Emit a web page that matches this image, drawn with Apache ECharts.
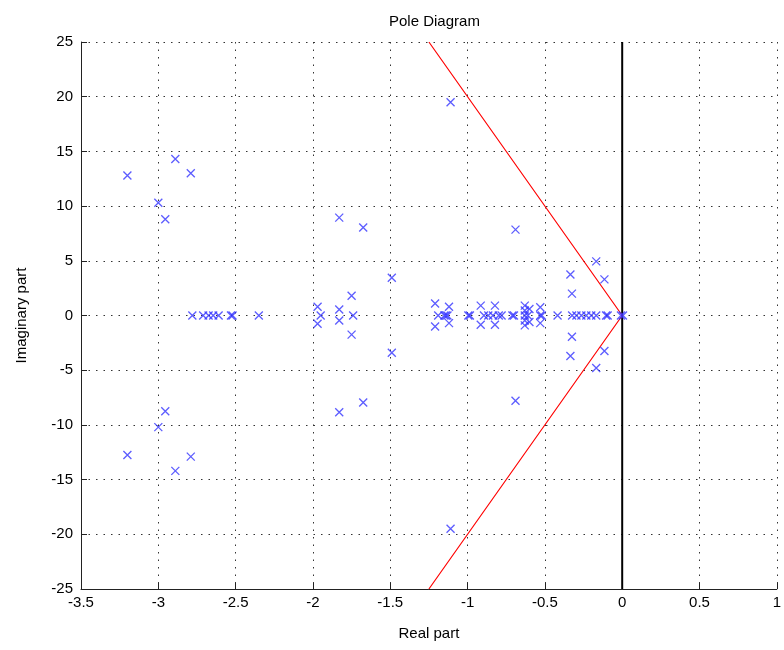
<!DOCTYPE html>
<html>
<head>
<meta charset="utf-8">
<script src="https://cdn.jsdelivr.net/npm/echarts@6/dist/echarts.min.js"></script>
<style>
  html, body { margin: 0; padding: 0; background: #fff; overflow: hidden; }
  #chart { width: 784px; height: 650px; }
</style>
</head>
<body>
<div id="chart"></div>
<script>
// Complex poles (real part, imaginary part)
const complexRe = [-3.20, -3.20, -2.89, -2.89, -2.79, -2.79, -3.00, -3.00, -2.955, -2.955,
  -1.97, -1.97, -1.83, -1.83, -1.675, -1.675, -1.49, -1.49, -1.75, -1.75,
  -1.83, -1.83, -1.21, -1.21, -1.12, -1.12, -1.11, -1.11, -0.915, -0.915,
  -0.823, -0.823, -0.63, -0.63, -0.63, -0.63, -0.60, -0.60, -0.53, -0.53,
  -0.69, -0.69, -0.335, -0.335, -0.325, -0.325, -0.168, -0.168, -0.115, -0.115];
const complexIm = [12.8, -12.75, 14.3, -14.2, 13.0, -12.9, 10.3, -10.2, 8.8, -8.75,
  0.8, -0.75, 8.95, -8.85, 8.05, -7.95, 3.45, -3.4, 1.8, -1.75,
  0.55, -0.45, 1.1, -1.0, 0.8, -0.7, 19.5, -19.5, 0.9, -0.85,
  0.9, -0.85, 0.9, -0.9, 0.45, -0.45, 0.6, -0.6, 0.75, -0.7,
  7.85, -7.8, 3.75, -3.7, 2.0, -1.95, 4.95, -4.8, 3.3, -3.25];
// Real poles (imaginary part zero)
const realPoles = [-2.78, -2.71, -2.675, -2.645, -2.61, -2.53, -2.52, -2.35, -1.95, -1.74,
  -1.19, -1.15, -1.13, -1.14, -0.995, -0.985, -0.894, -0.866, -0.836, -0.798,
  -0.78, -0.71, -0.70, -0.63, -0.61, -0.53, -0.52, -0.418, -0.324, -0.296,
  -0.264, -0.232, -0.2, -0.168, -0.104, -0.094, -0.008, 0.005];
// Damping boundary lines (red) and imaginary axis (black)
const boundaryRe = [-1.25, 0, -1.25];
const boundaryIm = [25, 0, -25];
const imagAxisRe = [0, 0];
const imagAxisIm = [-25, 25];

const xTicks = { min: -3.5, max: 1, interval: 0.5 };
const yTicks = { min: -25, max: 25, interval: 5 };

const poleData = complexRe.map((r, i) => [r, complexIm[i]])
  .concat(realPoles.map(r => [r, 0]));

const chart = echarts.init(document.getElementById('chart'), null, { renderer: 'canvas' });
const font = 'Liberation Sans';
const gridDots = { color: '#333', width: 1, type: [1.5, 6] };

chart.setOption({
  animation: false,
  backgroundColor: '#fff',
  title: {
    text: 'Pole Diagram', left: 384, top: 9,
    textStyle: { fontFamily: font, fontSize: 15, fontWeight: 'normal', color: '#000' }
  },
  grid: { left: 81, width: 703, top: 42, height: 547, containLabel: false },
  xAxis: {
    type: 'value', min: xTicks.min, max: xTicks.max, interval: xTicks.interval,
    name: 'Real part', nameLocation: 'middle', nameGap: 37,
    nameTextStyle: { fontFamily: font, fontSize: 15, color: '#000' },
    axisLine: { show: true, onZero: false, lineStyle: { color: '#222', width: 1 } },
    axisTick: { show: true, inside: true, length: 6, lineStyle: { color: '#222' } },
    axisLabel: { fontFamily: font, fontSize: 15, color: '#000', margin: 6 },
    splitLine: { show: true, lineStyle: gridDots }
  },
  yAxis: {
    type: 'value', min: yTicks.min, max: yTicks.max, interval: yTicks.interval,
    name: 'Imaginary part', nameLocation: 'middle', nameGap: 52,
    nameTextStyle: { fontFamily: font, fontSize: 15, color: '#000' },
    axisLine: { show: true, onZero: false, lineStyle: { color: '#222', width: 1 } },
    axisTick: { show: true, inside: true, length: 6, lineStyle: { color: '#222' } },
    axisLabel: { fontFamily: font, fontSize: 15, color: '#000', margin: 8 },
    splitLine: { show: true, lineStyle: gridDots }
  },
  series: [
    {
      type: 'line', data: imagAxisRe.map((r, i) => [r, imagAxisIm[i]]),
      symbol: 'none', lineStyle: { color: '#000', width: 2 }, z: 2
    },
    {
      type: 'line', data: boundaryRe.map((r, i) => [r, boundaryIm[i]]),
      symbol: 'none', lineStyle: { color: '#ff0000', width: 1.2 }, z: 3
    },
    {
      type: 'scatter', data: poleData,
      symbol: 'path://M0,0L10,10M10,0L0,10', symbolSize: 8,
      itemStyle: { color: 'rgba(0,0,0,0)', borderColor: '#3333ff', borderWidth: 1.3 },
      z: 4
    }
  ]
});
</script>
</body>
</html>
